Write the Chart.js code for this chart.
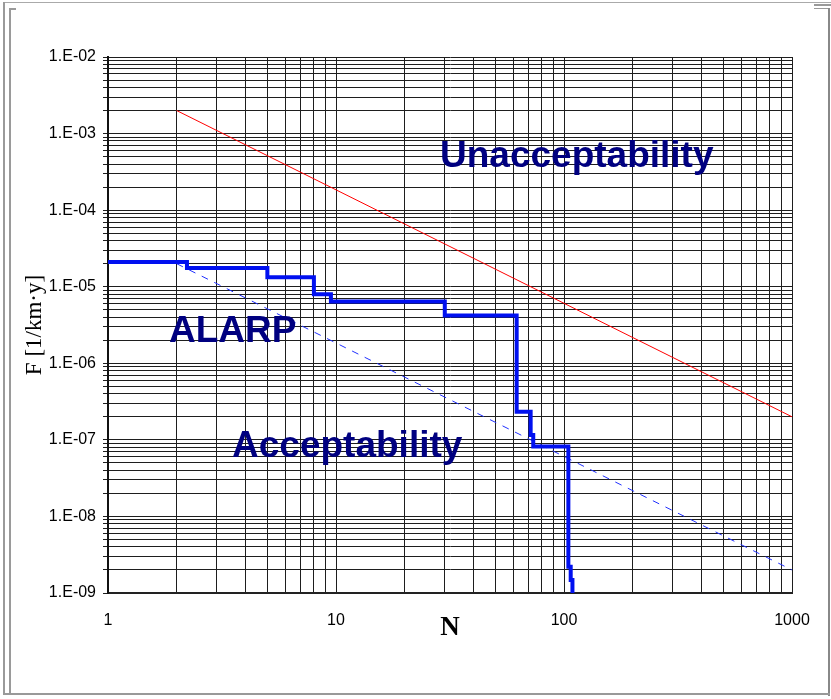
<!DOCTYPE html>
<html>
<head>
<meta charset="utf-8">
<script src="https://cdn.jsdelivr.net/npm/chart.js@4.4.1/dist/chart.umd.min.js"></script>
<style>
  body { margin: 0; background: #fff; }
  #wrap { position: relative; width: 831px; height: 699px; overflow: hidden; }
  #chart { position: absolute; left: 0; top: 0; }
  .fr { position: absolute; pointer-events: none; }
</style>
</head>
<body>
<div id="wrap">
  <canvas id="chart" width="831" height="699"></canvas>
  <!-- page frame around the figure -->
  <div class="fr" style="left:3px; top:2px; width:828px; height:1px; background:#aaa;"></div>
  <div class="fr" style="left:3px; top:2px; width:2px; height:693px; background:#9a9a9a;"></div>
  <div class="fr" style="left:9px; top:8px; width:2px; height:686px; background:#9a9a9a;"></div>
  <div class="fr" style="left:9px; top:8px; width:7px; height:2px; background:#9a9a9a;"></div>
  <div class="fr" style="left:814px; top:4px; width:17px; height:2px; background:#999;"></div>
  <div class="fr" style="left:814px; top:8px; width:14px; height:1px; background:#999;"></div>
  <div class="fr" style="left:828px; top:8px; width:2px; height:688px; background:#888;"></div>
  <div class="fr" style="left:3px; top:693px; width:827px; height:2px; background:#999;"></div>
</div>
<script>
// F-N curve data
const riskN = [1, 2.22, 5, 8, 9.5, 30, 62, 71.4, 73.3, 104.5, 107, 108.9];
const riskF = [2.1e-5, 1.75e-5, 1.33e-5, 8e-6, 6.4e-6, 4.2e-6, 2.33e-7, 1.16e-7, 8.2e-8, 2.2e-9, 1.48e-9, 1e-9];

// criteria lines
const unacceptN = [2, 1000];
const unacceptF = [2e-3, 2e-7];
const acceptN = [2, 1000];
const acceptF = [2e-5, 2e-9];

// axes and grid
const nDecades = [1, 10, 100];
const fDecades = [1e-9, 1e-8, 1e-7, 1e-6, 1e-5, 1e-4, 1e-3];
const gridSteps = [1, 2, 3, 4, 5, 6, 7, 8, 9];
const nMin = 1, nMax = 1000;
const fMin = 1e-9, fMax = 1e-2;

// region labels
const regionNames = ['Unacceptability', 'ALARP', 'Acceptability'];
const regionN = [28.6, 1.85, 3.5];
const regionF = [3.66e-4, 1.9e-6, 5.97e-8];

const xTickValues = nDecades.flatMap(d => gridSteps.map(s => s * d)).concat([nMax]);
const yTickValues = fDecades.flatMap(d => gridSteps.map(s => s * d)).concat([fMax]);

const toPoints = (xs, ys) => xs.map((x, i) => ({ x: x, y: ys[i] }));
const isPow10 = v => Math.abs(Math.log10(v) - Math.round(Math.log10(v))) < 1e-6;

const regionLabels = {
  id: 'regionLabels',
  afterDatasetsDraw(chart) {
    const ctx = chart.ctx;
    const xs = chart.scales.x, ys = chart.scales.y;
    ctx.save();
    ctx.fillStyle = '#000080';
    ctx.font = 'bold 37px "Liberation Sans", Arial, sans-serif';
    ctx.textAlign = 'left';
    ctx.textBaseline = 'alphabetic';
    regionNames.forEach((name, i) => {
      ctx.fillText(name, xs.getPixelForValue(regionN[i]), ys.getPixelForValue(regionF[i]));
    });
    ctx.restore();
  }
};

const gridColor = '#1e1e1e';

new Chart(document.getElementById('chart'), {
  type: 'line',
  data: {
    datasets: [
      {
        label: 'F-N',
        data: toPoints(riskN, riskF),
        stepped: 'before',
        borderColor: '#0010f0',
        borderWidth: 4,
        pointRadius: 0,
        fill: false
      },
      {
        label: 'Acceptability limit',
        data: toPoints(acceptN, acceptF),
        borderColor: '#2030ff',
        borderWidth: 1,
        borderDash: [7, 7],
        pointRadius: 0,
        fill: false
      },
      {
        label: 'Unacceptability limit',
        data: toPoints(unacceptN, unacceptF),
        borderColor: '#ff0000',
        borderWidth: 1,
        pointRadius: 0,
        fill: false
      }
    ]
  },
  options: {
    responsive: false,
    animation: false,
    devicePixelRatio: 1,
    layout: { padding: { top: 57, right: 39, left: 0, bottom: 0 } },
    plugins: {
      legend: { display: false },
      tooltip: { enabled: false }
    },
    scales: {
      x: {
        type: 'logarithmic',
        min: nMin,
        max: nMax,
        afterBuildTicks: scale => {
          scale.ticks = xTickValues.map(v => ({ value: v, major: isPow10(v) }));
        },
        afterFit: scale => { scale.height = 106; },
        grid: { color: gridColor, lineWidth: 1, drawTicks: false },
        border: { color: '#222', width: 2 },
        ticks: {
          autoSkip: false,
          maxRotation: 0,
          padding: 18,
          color: '#000',
          font: { family: '"Liberation Sans", Arial, sans-serif', size: 16 },
          callback: v => isPow10(v) ? String(Math.round(v)) : ''
        },
        title: {
          display: true,
          text: 'N',
          color: '#000',
          font: { family: '"Liberation Serif", "Times New Roman", serif', size: 27, weight: 'bold' },
          padding: { top: 0, bottom: 55 }
        }
      },
      y: {
        type: 'logarithmic',
        min: fMin,
        max: fMax,
        afterBuildTicks: scale => {
          scale.ticks = yTickValues.map(v => ({ value: v, major: isPow10(v) }));
        },
        afterFit: scale => { scale.width = 108; },
        grid: { color: gridColor, lineWidth: 1, tickLength: 5 },
        border: { color: '#111', width: 2 },
        ticks: {
          autoSkip: false,
          padding: 7,
          color: '#000',
          font: { family: '"Liberation Sans", Arial, sans-serif', size: 16 },
          callback: v => {
            if (!isPow10(v)) return '';
            const e = Math.round(Math.log10(v));
            return '1.E' + (e < 0 ? '-' : '+') + String(Math.abs(e)).padStart(2, '0');
          }
        },
        title: {
          display: true,
          text: 'F [1/km·y]',
          color: '#000',
          font: { family: '"Liberation Serif", "Times New Roman", serif', size: 23 },
          padding: { top: 21, bottom: 0 }
        }
      }
    }
  },
  plugins: [regionLabels]
});
</script>
</body>
</html>
